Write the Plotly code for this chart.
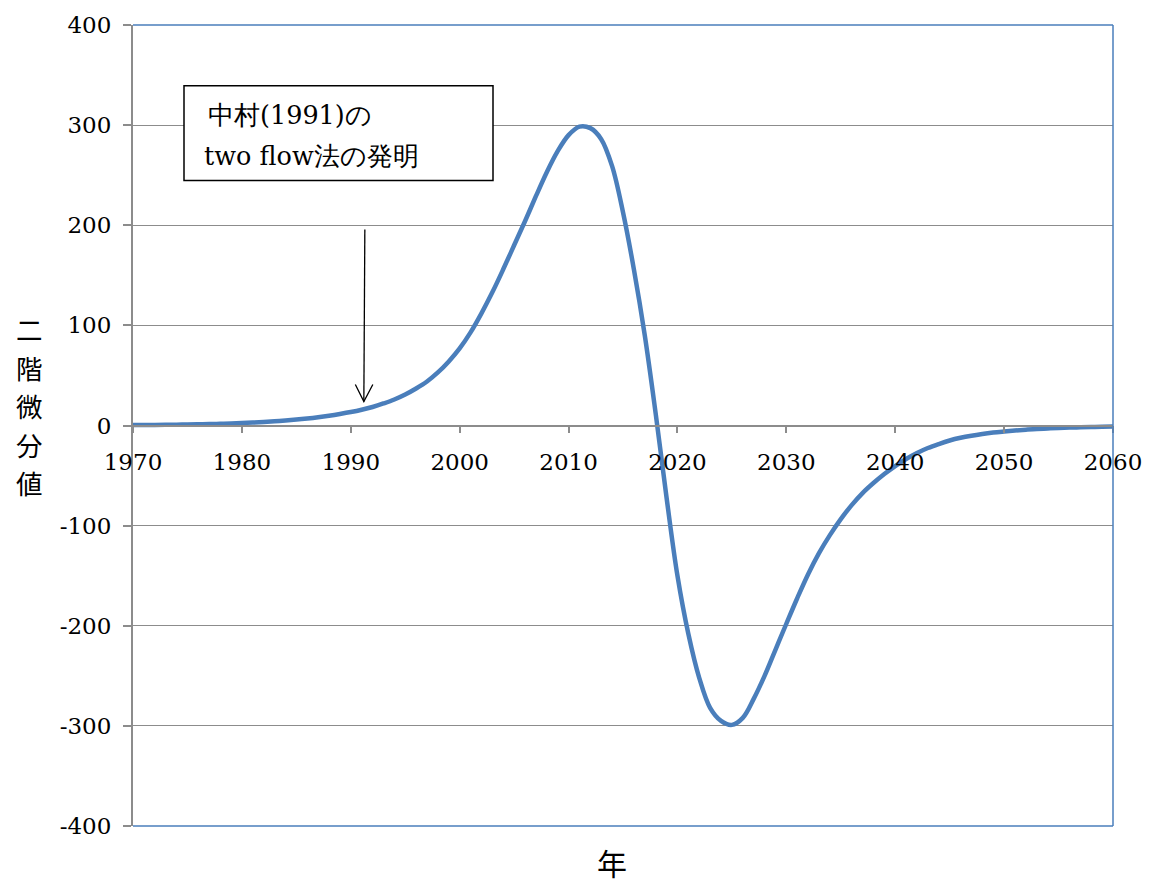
import plotly.graph_objects as go

# Second derivative values by year
years = list(range(1970, 2061))
values = [
    0.4, 0.5, 0.6, 0.7, 0.85, 1.0, 1.2, 1.4, 1.7, 2.0,            # 1970-1979
    2.4, 2.9, 3.5, 4.2, 5.0, 5.9, 7.0, 8.3, 9.8, 11.5,            # 1980-1989
    13.4, 15.7, 18.5, 22, 26, 31, 37, 44, 53, 64,                 # 1990-1999
    77, 93, 112, 133, 156, 180, 204, 229, 253, 274,               # 2000-2009
    290, 298.5, 297, 286, 259, 213, 156, 90, 12, -72,             # 2010-2019
    -150, -208, -252, -282, -295, -299, -292, -273, -250, -224,   # 2020-2029
    -198, -172.5, -148.5, -127.5, -109.5, -93.5, -79.5, -67.5, -57.5, -48.5,  # 2030-2039
    -40.5, -33.5, -27.5, -22.5, -18.5, -15, -12.3, -10.2, -8.5, -7.1,  # 2040-2049
    -6, -5, -4.2, -3.5, -3, -2.5, -2.1, -1.8, -1.5, -1.2,         # 2050-2059
    -1,                                                            # 2060
]

y_ticks = [-400, -300, -200, -100, 0, 100, 200, 300, 400]
y_tick_text = ["-400", "-300", "-200", "-100", "0", "100", "200", "300", "400"]
x_ticks = list(range(1970, 2061, 10))

note_lines = ["中村(1991)の", "two flow法の発明"]
note_year = 1991.2
note_value = 24

BLUE = "#4a7ebb"
GRID = "#8c8c8c"
SERIF = "DejaVu Serif"
CJK = "Noto Sans CJK JP"

fig = go.Figure()
fig.add_trace(go.Scatter(
    x=years, y=values, mode="lines",
    line=dict(color=BLUE, width=4.5, shape="spline", smoothing=1.0),
    hoverinfo="skip", showlegend=False,
))

W, H = 1154, 885
L, R, T, B = 133, 41, 22, 59
pw, ph = W - L - R, H - T - B


def px_x(p):
    return (p - L) / pw


def px_y(p):
    return (H - B - p) / ph


shapes = [
    # blue frame on top, right and bottom
    dict(type="line", xref="paper", yref="paper", x0=0, x1=1, y0=1, y1=1,
         line=dict(color=BLUE, width=1.5)),
    dict(type="line", xref="paper", yref="paper", x0=1, x1=1, y0=0, y1=1,
         line=dict(color=BLUE, width=1.5)),
    dict(type="line", xref="paper", yref="paper", x0=0, x1=1, y0=0, y1=0,
         line=dict(color=BLUE, width=1.5)),
    # note box
    dict(type="rect", xref="paper", yref="paper",
         x0=px_x(184), x1=px_x(493), y0=px_y(178), y1=px_y(83),
         line=dict(color="black", width=1.5), fillcolor="white", layer="above"),
    # arrow shaft and open head
    dict(type="path", xref="x", yref="y", xsizemode="pixel", ysizemode="pixel",
         xanchor=note_year, yanchor=note_value,
         path="M 1 172 L 0 0", line=dict(color="black", width=1.3)),
    dict(type="path", xref="x", yref="y", xsizemode="pixel", ysizemode="pixel",
         xanchor=note_year, yanchor=note_value,
         path="M -8.5 17 L 0 0 L 9 17", line=dict(color="black", width=1.3)),
]

annotations = [
    dict(text=note_lines[0], xref="paper", yref="paper", x=px_x(206), y=px_y(112),
         xanchor="left", yanchor="middle", showarrow=False,
         font=dict(family=SERIF, size=25.5, color="black")),
    dict(text=note_lines[1], xref="paper", yref="paper", x=px_x(202), y=px_y(153),
         xanchor="left", yanchor="middle", showarrow=False,
         font=dict(family=SERIF, size=25.5, color="black")),
    dict(text="年", xref="paper", yref="paper", x=px_x(612), y=px_y(862),
         xanchor="center", yanchor="middle", showarrow=False,
         font=dict(family=CJK, size=30, color="black")),
]

# vertical y-axis title, one character per row
for i, ch in enumerate("二階微分値"):
    annotations.append(dict(
        text=ch, xref="paper", yref="paper", x=px_x(29), y=px_y(327 + 38.6 * i),
        xanchor="center", yanchor="middle", showarrow=False,
        font=dict(family=CJK, size=26.5, color="black"),
    ))

fig.update_layout(
    width=W, height=H,
    margin=dict(l=L, r=R, t=T, b=B, pad=0),
    plot_bgcolor="white", paper_bgcolor="white",
    shapes=shapes, annotations=annotations,
    xaxis=dict(
        range=[1970, 2060], tickvals=x_ticks, showgrid=False, zeroline=False,
        anchor="free", position=0.5, showline=True, linecolor=GRID, linewidth=1.5,
        ticks="outside", ticklen=7, tickcolor=GRID, tickwidth=1.5,
        ticklabelstandoff=9,
        tickfont=dict(family=SERIF, size=23, color="black"),
    ),
    yaxis=dict(
        range=[-400, 400], tickvals=y_ticks, ticktext=y_tick_text,
        showgrid=True, gridcolor=GRID, gridwidth=1.2, zeroline=False,
        showline=True, linecolor=GRID, linewidth=2,
        ticks="outside", ticklen=8, tickcolor=GRID, tickwidth=1.5,
        ticklabelstandoff=7,
        tickfont=dict(family=SERIF, size=23, color="black"),
    ),
)

fig.write_html("out.html")
